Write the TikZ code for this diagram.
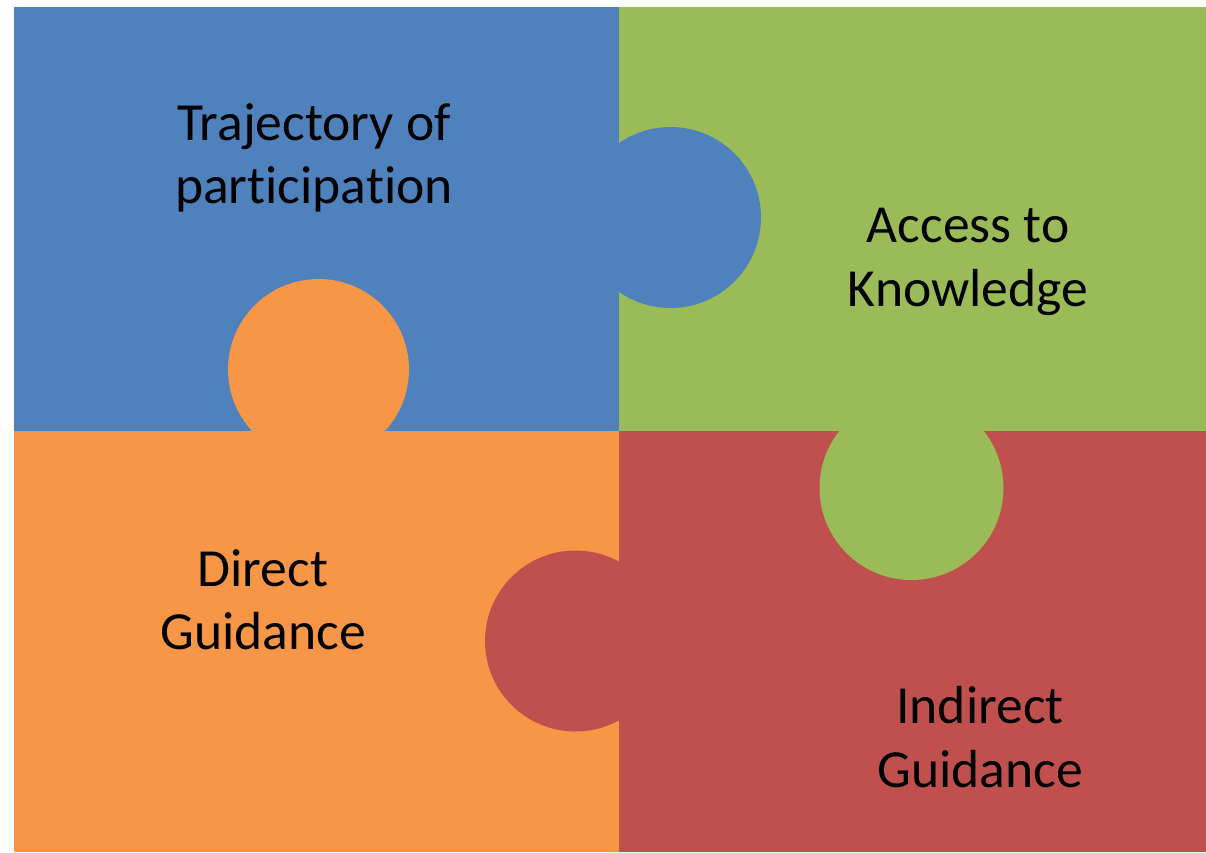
\documentclass[tikz,border=0pt]{standalone}
\usepackage{tikz}
\usepackage{xcolor}
\usepackage{fontspec}
\setmainfont[RawFeature={-liga;-clig;-dlig;-calt}]{Carlito}
\usetikzlibrary{positioning,calc}

\definecolor{pieceblue}{HTML}{4F81BD}
\definecolor{piecegreen}{HTML}{9BBB59}
\definecolor{pieceorange}{HTML}{F79646}
\definecolor{piecered}{HTML}{C0504D}

\tikzset{piecetext/.style={align=center, inner sep=0pt, font=\fontsize{30.5}{36}\selectfont}}

\begin{document}
\begin{tikzpicture}[x=0.02cm, y=-0.02cm]
    \useasboundingbox (0,0) rectangle (1206,852);
    % the four pieces
    \fill [pieceblue] (14,7) rectangle (619,430.5);
    \fill [piecegreen] (619,7) rectangle (1206,430.5);
    \fill [pieceorange] (14,430.5) rectangle (619,852);
    \fill [piecered] (619,430.5) rectangle (1206,852);
    % knobs
    \fill [pieceblue] (670.5,217.5) circle (90.5);
    \fill [pieceorange] (318.5,369.5) circle (90.5);
    \fill [piecegreen] (911.5,488) circle (92);
    \fill [piecered] (575.5,641) circle (90.5);

    \node (traj) [piecetext] at (314,158) {Trajectory of\\participation};
    \node (access) [piecetext] at (968,262) {Access to\\Knowledge};
    \node (direct) [piecetext] at (263,600) {Direct\\Guidance};
    \node (indirect) [piecetext] at (980,737) {Indirect\\Guidance};
\end{tikzpicture}
\end{document}
